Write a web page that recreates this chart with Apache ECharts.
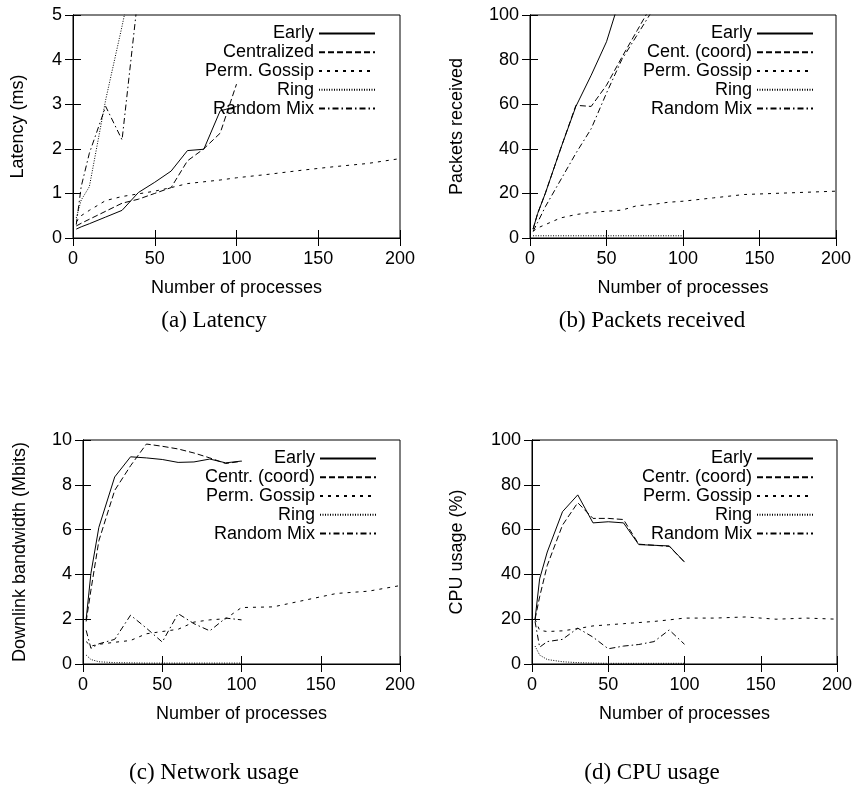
<!DOCTYPE html>
<html>
<head>
<meta charset="utf-8">
<script src="https://cdn.jsdelivr.net/npm/echarts@6/dist/echarts.min.js"></script>
<style>
html, body { margin: 0; padding: 0; background: #fff; }
#chart { width: 856px; height: 786px; }
</style>
</head>
<body>
<div id="chart"></div>
<script>
// x values (number of processes)
const xShort = [2, 5, 10, 20, 30, 40, 50, 60, 70, 80, 90, 100];
const xLong = [2, 5, 10, 20, 30, 40, 50, 60, 70, 80, 90, 100, 120, 140, 160, 180, 200];

// (a) latency (ms)
const latEarly = [0.2, 0.25, 0.32, 0.47, 0.62, 1.02, 1.25, 1.5, 1.96, 1.99, 2.85, 2.95];
const latCent = [0.27, 0.33, 0.42, 0.6, 0.78, 0.87, 1.0, 1.13, 1.73, 2.0, 2.35, 3.45];
const latGossip = [0.36, 0.5, 0.62, 0.84, 0.93, 0.99, 1.05, 1.13, 1.22, 1.26, 1.3, 1.35, 1.43, 1.52, 1.6, 1.67, 1.78];
const latRing = [0.45, 0.85, 1.15, 3.1, 4.75, 6.5];
const latRandom = [0.3, 1.15, 1.9, 2.95, 2.2, 5.5];

// (b) packets received
const pktEarly = [4, 11, 20, 40, 59, 73, 88, 110];
const pktCent = [4, 11, 20, 40, 59.5, 59, 68.5, 81, 93, 105];
const pktGossip = [3, 4.5, 6, 9, 10.5, 11.5, 12, 12.5, 14.5, 15, 16, 16.5, 18, 19.5, 20, 20.5, 21];
const pktRing = [1, 1, 1, 1, 1, 1, 1, 1, 1, 1, 1, 1];
const pktRandom = [3, 7, 14, 26, 38, 49, 65, 80, 91, 102];

// (c) downlink bandwidth (Mbits)
const netEarly = [2.0, 4.05, 6.1, 8.35, 9.25, 9.2, 9.13, 9.0, 9.02, 9.15, 8.98, 9.06];
const netCent = [1.9, 3.3, 5.5, 7.75, 8.85, 9.82, 9.72, 9.6, 9.42, 9.2, 8.95, 9.05];
const netGossip = [1.0, 0.8, 0.88, 0.97, 1.05, 1.35, 1.45, 1.55, 1.87, 1.97, 2.02, 2.52, 2.55, 2.85, 3.15, 3.25, 3.5];
const netRing = [0.4, 0.2, 0.1, 0.06, 0.05, 0.04, 0.04, 0.04, 0.04, 0.04, 0.04, 0.04];
const netRandom = [1.5, 0.7, 0.9, 1.1, 2.18, 1.6, 0.98, 2.25, 1.8, 1.48, 2.05, 1.97];

// (d) CPU usage (%)
const cpuEarly = [20, 38, 50, 68, 75.5, 63, 63.5, 63, 53.3, 53, 52.7, 45.5];
const cpuCent = [20, 30, 44, 62, 72, 65, 65, 64.5, 53.5, 53, 52.5, 45.5];
const cpuGossip = [20, 15, 14.5, 14.8, 15.8, 17, 17.5, 18, 18.5, 19, 19.7, 20.5, 20.5, 21, 20, 20.5, 20];
const cpuRing = [8, 4, 2, 1, 0.6, 0.4, 0.3, 0.3, 0.3, 0.3, 0.3, 0.3];
const cpuRandom = [19, 7.5, 10, 11, 16, 12, 6.8, 8, 8.7, 10, 15.2, 8.8];

const namesA = ["Early", "Centralized", "Perm. Gossip", "Ring", "Random Mix"];
const namesB = ["Early", "Cent. (coord)", "Perm. Gossip", "Ring", "Random Mix"];
const namesCD = ["Early", "Centr. (coord)", "Perm. Gossip", "Ring", "Random Mix"];

const font = "Liberation Sans, Arial, sans-serif";
const dashes = ["solid", [6, 3], [3, 5], [1, 1.5], [6, 3, 1.5, 3]];

const panels = [
    { grid: { left: 73, top: 15, width: 327, height: 223 }, yMax: 5, yInt: 1, yName: "Latency (ms)", yGap: 46,
      names: namesA, data: [latEarly, latCent, latGossip, latRing, latRandom], legend: { right: 480, top: 24 },
      title: "(a) Latency", tx: 214, ty: 321 },
    { grid: { left: 530, top: 15, width: 306, height: 223 }, yMax: 100, yInt: 20, yName: "Packets received", yGap: 64,
      names: namesB, data: [pktEarly, pktCent, pktGossip, pktRing, pktRandom], legend: { right: 42, top: 24 },
      title: "(b) Packets received", tx: 652, ty: 321 },
    { grid: { left: 83, top: 440, width: 317, height: 224 }, yMax: 10, yInt: 2, yName: "Downlink bandwidth (Mbits)", yGap: 54,
      names: namesCD, data: [netEarly, netCent, netGossip, netRing, netRandom], legend: { right: 479, top: 449 },
      title: "(c) Network usage", tx: 214, ty: 773 },
    { grid: { left: 532, top: 440, width: 305, height: 224 }, yMax: 100, yInt: 20, yName: "CPU usage (%)", yGap: 66,
      names: namesCD, data: [cpuEarly, cpuCent, cpuGossip, cpuRing, cpuRandom], legend: { right: 42, top: 449 },
      title: "(d) CPU usage", tx: 652, ty: 773 }
];

const black = { color: "#000", width: 1 };
const grids = [], xAxes = [], yAxes = [], series = [], legends = [], texts = [];

panels.forEach((p, i) => {
    grids.push(Object.assign({ show: true, borderColor: "#000", borderWidth: 1 }, p.grid));

    // bottom axis with labels + mirrored top axis with ticks only
    xAxes.push({
        gridIndex: i, type: "value", min: 0, max: 200, interval: 50, position: "bottom",
        name: "Number of processes", nameLocation: "middle", nameGap: 41,
        nameTextStyle: { fontFamily: font, fontSize: 18, color: "#000" },
        axisLine: { lineStyle: black }, axisTick: { inside: true, length: 8, lineStyle: black },
        axisLabel: { fontFamily: font, fontSize: 18, color: "#000", margin: 12 },
        splitLine: { show: false }
    });
    xAxes.push({
        gridIndex: i, type: "value", min: 0, max: 200, interval: 50, position: "top",
        axisLine: { lineStyle: black }, axisTick: { inside: true, length: 8, lineStyle: black },
        axisLabel: { show: false }, splitLine: { show: false }
    });
    yAxes.push({
        gridIndex: i, type: "value", min: 0, max: p.yMax, interval: p.yInt, position: "left",
        name: p.yName, nameLocation: "middle", nameGap: p.yGap,
        nameTextStyle: { fontFamily: font, fontSize: 18, color: "#000" },
        axisLine: { show: true, lineStyle: black }, axisTick: { show: true, inside: true, length: 8, lineStyle: black },
        axisLabel: { fontFamily: font, fontSize: 18, color: "#000", margin: 11 },
        splitLine: { show: false }
    });
    yAxes.push({
        gridIndex: i, type: "value", min: 0, max: p.yMax, interval: p.yInt, position: "right",
        axisLine: { show: true, lineStyle: black }, axisTick: { show: true, inside: true, length: 8, lineStyle: black },
        axisLabel: { show: false }, splitLine: { show: false }
    });

    p.data.forEach((vals, k) => {
        const xs = vals.length > xShort.length ? xLong : xShort;
        series.push({
            type: "line", name: p.names[k], xAxisIndex: i * 2, yAxisIndex: i * 2,
            data: vals.map((v, j) => [xs[j], v]),
            symbol: "none", showSymbol: false, clip: true, animation: false,
            lineStyle: { color: "#000", width: 1, type: dashes[k] },
            itemStyle: { color: "#000" }
        });
    });

    legends.push({
        orient: "vertical", align: "right", right: p.legend.right, top: p.legend.top,
        itemWidth: 56, itemHeight: 10, itemGap: 0, padding: 0, selectedMode: false,
        itemStyle: { opacity: 0 },
        textStyle: { fontFamily: font, fontSize: 18, lineHeight: 18.8, color: "#000" },
        data: p.names
    });

    texts.push({
        type: "text", x: p.tx, y: p.ty,
        style: { text: p.title, font: "23px Liberation Serif, Times New Roman, serif", fill: "#000",
                 align: "center", verticalAlign: "middle" }
    });
});

var chart = echarts.init(document.getElementById("chart"));
chart.setOption({
    backgroundColor: "#fff",
    animation: false,
    grid: grids,
    xAxis: xAxes,
    yAxis: yAxes,
    legend: legends,
    series: series,
    graphic: texts
});

window.addEventListener("resize", () => {
    if (chart) chart.resize();
});
</script>
</body>
</html>
